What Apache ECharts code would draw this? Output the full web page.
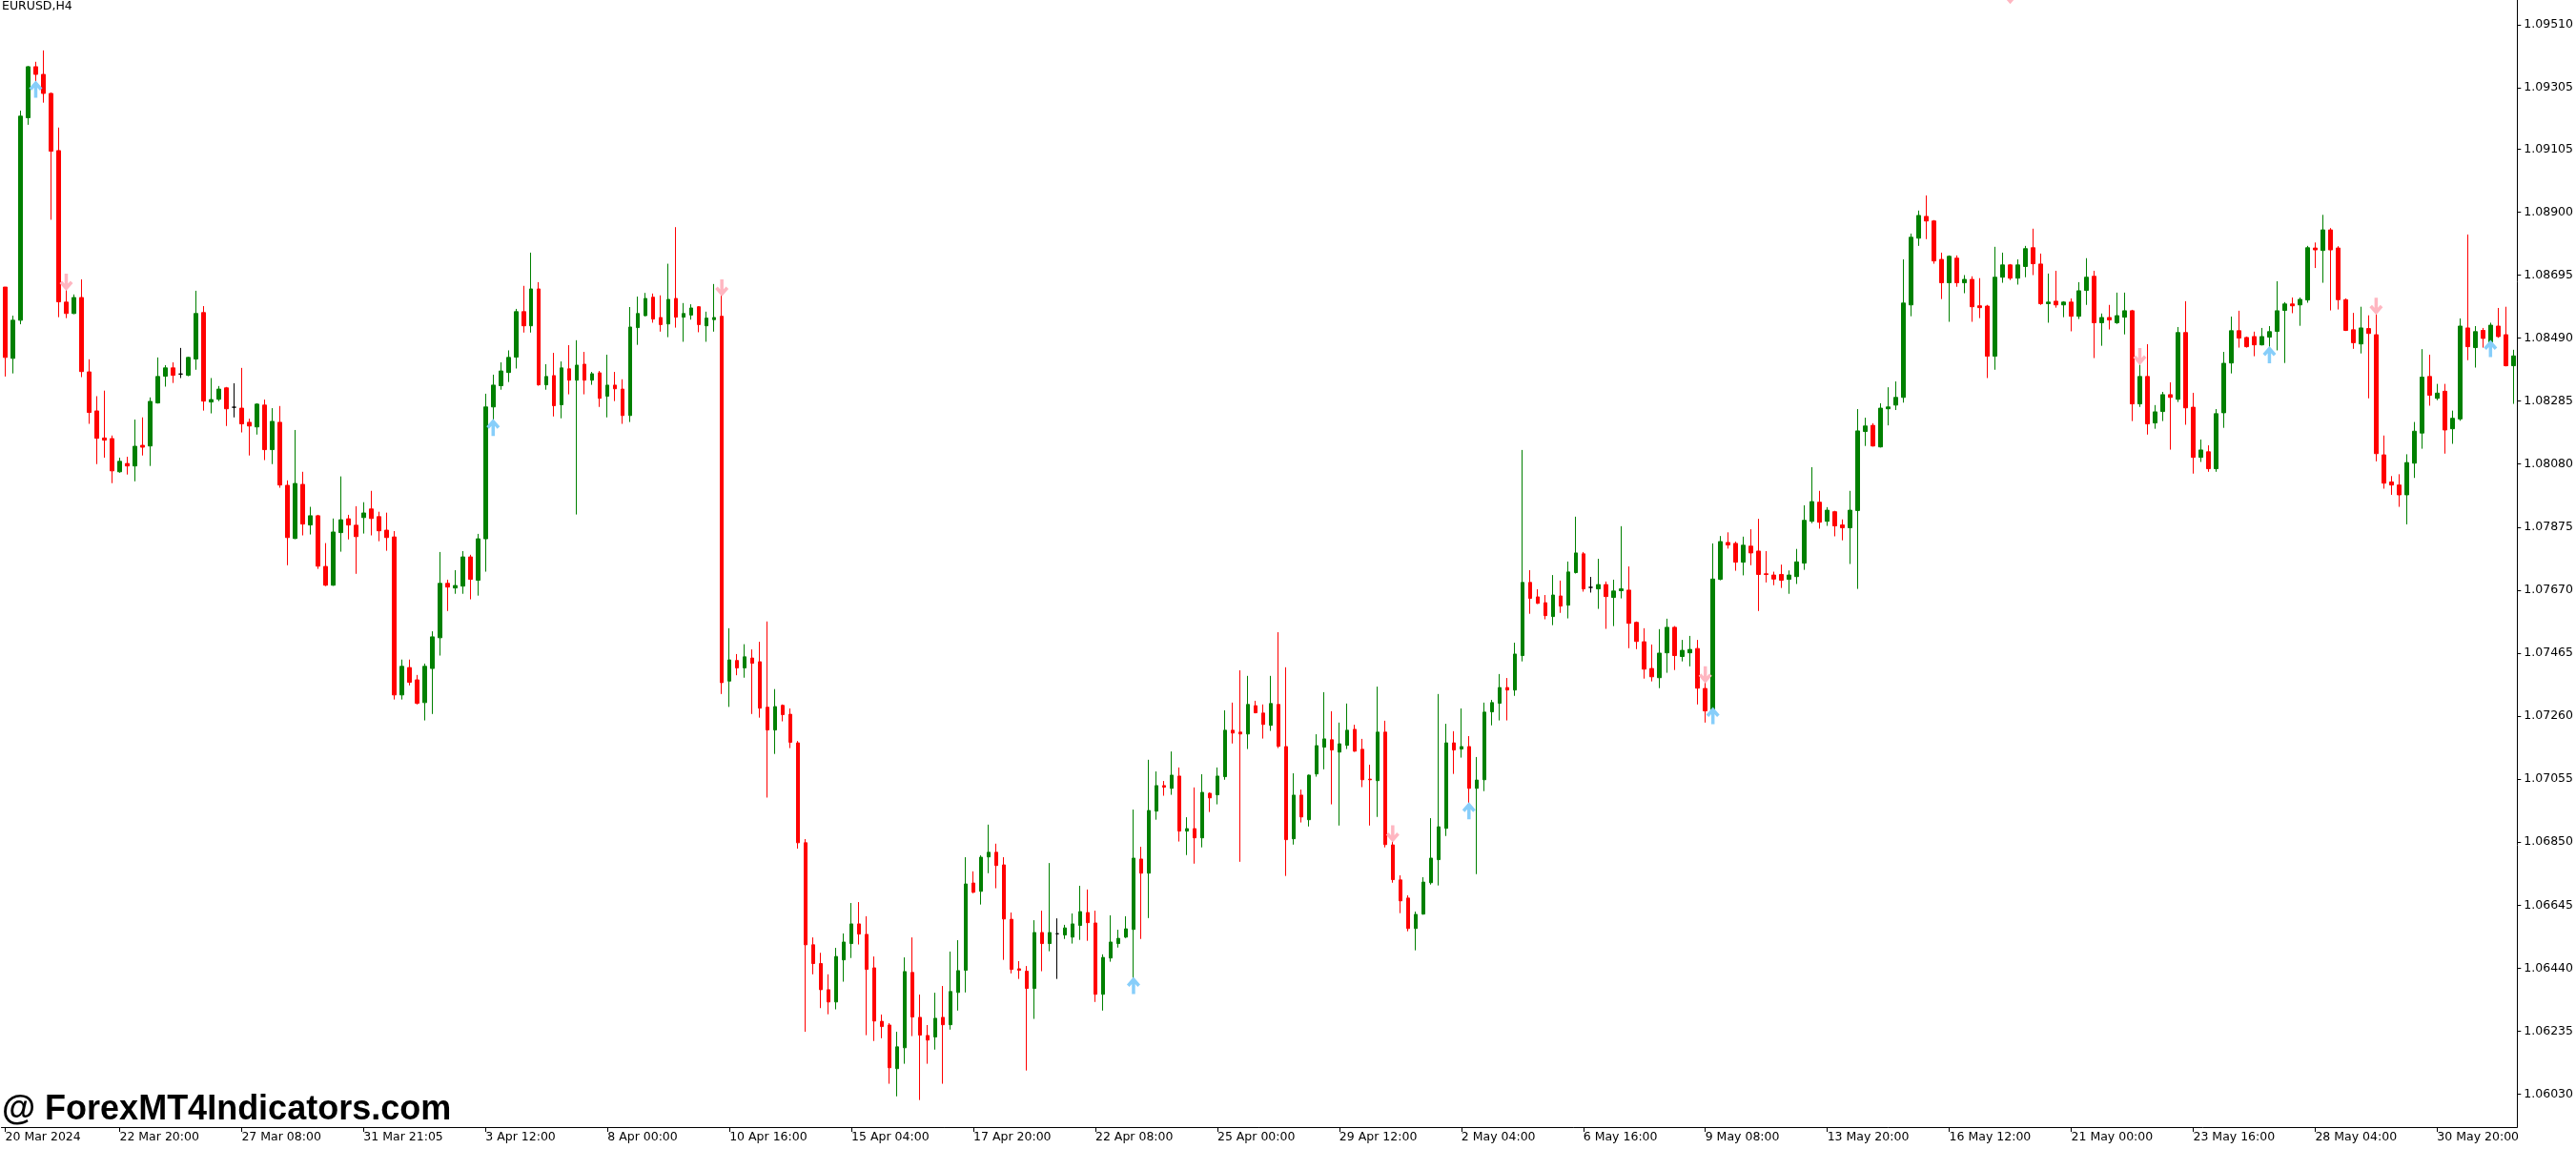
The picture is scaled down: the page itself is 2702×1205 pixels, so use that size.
<!DOCTYPE html>
<html><head><meta charset="utf-8">
<script src="https://cdn.jsdelivr.net/npm/echarts@6/dist/echarts.min.js"></script>
<style>html,body{margin:0;padding:0;background:#fff}#c{width:2702px;height:1205px}</style>
</head><body><div id="c"></div>
<script>
const opens = [1.08656,1.08424,1.08548,1.09207,1.09373,1.09348,1.09286,1.09100,1.08607,1.08570,
1.08622,1.08380,1.08253,1.08165,1.08163,1.08055,1.08082,1.08074,1.08141,1.08139,
1.08279,1.08366,1.08393,1.08373,1.08369,1.08422,1.08573,1.08282,1.08291,1.08328,
1.08265,1.08262,1.08216,1.08201,1.08272,1.08127,1.08216,1.08011,1.07838,1.08014,
1.07882,1.07912,1.07747,1.07686,1.07857,1.07902,1.07881,1.07906,1.07934,1.07909,
1.07865,1.07843,1.07329,1.07418,1.07378,1.07304,1.07415,1.07515,1.07692,1.07677,
1.07683,1.07778,1.07702,1.07837,1.08266,1.08335,1.08378,1.08428,1.08576,1.08530,
1.08650,1.08338,1.08368,1.08273,1.08390,1.08353,1.08405,1.08353,1.08377,1.08301,
1.08337,1.08324,1.08238,1.08524,1.08563,1.08623,1.08557,1.08536,1.08619,1.08558,
1.08565,1.08592,1.08530,1.08550,1.08561,1.07374,1.07441,1.07417,1.07449,1.07437,
1.07289,1.07215,1.07295,1.07266,1.07173,1.06848,1.06516,1.06455,1.06370,1.06330,
1.06467,1.06520,1.06584,1.06550,1.06441,1.06267,1.06255,1.06113,1.06181,1.06426,
1.06280,1.06221,1.06216,1.06280,1.06256,1.06361,1.06433,1.06717,1.06690,1.06802,
1.06817,1.06776,1.06599,1.06438,1.06430,1.06374,1.06556,1.06520,1.06552,1.06548,
1.06541,1.06579,1.06621,1.06587,1.06355,1.06473,1.06520,1.06541,1.06566,1.06795,
1.06749,1.06951,1.07034,1.07025,1.07065,1.06886,1.06894,1.06864,1.07009,1.07004,
1.07063,1.07214,1.07208,1.07202,1.07294,1.07270,1.07230,1.07298,1.07161,1.06861,
1.07003,1.06923,1.07072,1.07159,1.07183,1.07143,1.07165,1.07217,1.07152,1.07055,
1.07050,1.07208,1.06841,1.06727,1.06668,1.06569,1.06616,1.06718,1.06793,1.06895,
1.07173,1.07153,1.07161,1.07025,1.07053,1.07274,1.07302,1.07353,1.07345,1.07457,
1.07695,1.07648,1.07629,1.07584,1.07651,1.07621,1.07727,1.07788,1.07679,1.07674,
1.07688,1.07646,1.07668,1.07670,1.07565,1.07502,1.07415,1.07385,1.07466,1.07549,
1.07454,1.07466,1.07480,1.07350,1.07271,1.07705,1.07825,1.07822,1.07761,1.07813,
1.07797,1.07723,1.07719,1.07721,1.07705,1.07714,1.07758,1.07894,1.07956,1.07894,
1.07925,1.07882,1.07873,1.07929,1.08186,1.08206,1.08136,1.08260,1.08272,1.08297,
1.08598,1.08815,1.08886,1.08871,1.08746,1.08670,1.08750,1.08670,1.08681,1.08595,
1.08594,1.08431,1.08688,1.08728,1.08685,1.08723,1.08784,1.08731,1.08602,1.08610,
1.08598,1.08607,1.08561,1.08645,1.08691,1.08540,1.08557,1.08540,1.08558,1.08579,
1.08276,1.08365,1.08214,1.08251,1.08306,1.08291,1.08508,1.08265,1.08102,1.08120,
1.08065,1.08247,1.08409,1.08514,1.08492,1.08495,1.08468,1.08493,1.08512,1.08580,
1.08601,1.08598,1.08614,1.08783,1.08775,1.08842,1.08783,1.08615,1.08517,1.08471,
1.08521,1.08501,1.08110,1.08022,1.08012,1.07980,1.08083,1.08181,1.08365,1.08294,
1.08317,1.08195,1.08227,1.08523,1.08459,1.08515,1.08477,1.08529,1.08501,1.08400];
const highs = [1.08656,1.08563,1.09230,1.09375,1.09389,1.09426,1.09289,1.09175,1.08667,1.08632,
1.08681,1.08421,1.08301,1.08319,1.08173,1.08101,1.08104,1.08225,1.08232,1.08297,
1.08427,1.08402,1.08411,1.08458,1.08429,1.08644,1.08594,1.08360,1.08334,1.08331,
1.08343,1.08393,1.08228,1.08278,1.08290,1.08262,1.08269,1.08027,1.08191,1.08055,
1.07941,1.07915,1.07823,1.07903,1.08040,1.07915,1.07943,1.07956,1.07993,1.07925,
1.07922,1.07862,1.07444,1.07444,1.07394,1.07431,1.07536,1.07794,1.07704,1.07735,
1.07797,1.07785,1.07853,1.08309,1.08371,1.08411,1.08450,1.08585,1.08660,1.08768,
1.08672,1.08405,1.08442,1.08414,1.08467,1.08483,1.08445,1.08380,1.08383,1.08436,
1.08380,1.08356,1.08591,1.08625,1.08637,1.08635,1.08629,1.08732,1.08851,1.08604,
1.08600,1.08594,1.08576,1.08666,1.08647,1.07546,1.07462,1.07494,1.07477,1.07502,
1.07568,1.07348,1.07298,1.07285,1.07179,1.06860,1.06540,1.06490,1.06420,1.06506,
1.06553,1.06652,1.06655,1.06609,1.06478,1.06289,1.06261,1.06233,1.06475,1.06540,
1.06354,1.06255,1.06360,1.06382,1.06494,1.06531,1.06801,1.06755,1.06807,1.06907,
1.06845,1.06801,1.06621,1.06463,1.06447,1.06596,1.06627,1.06782,1.06602,1.06581,
1.06618,1.06708,1.06696,1.06627,1.06485,1.06612,1.06565,1.06609,1.06956,1.06835,
1.07118,1.07080,1.07049,1.07145,1.07093,1.06931,1.07028,1.07071,1.07012,1.07093,
1.07279,1.07304,1.07409,1.07391,1.07310,1.07298,1.07391,1.07533,1.07419,1.07074,
1.07021,1.07070,1.07201,1.07338,1.07276,1.07239,1.07301,1.07232,1.07186,1.07102,
1.07356,1.07245,1.06869,1.06742,1.06677,1.06624,1.06736,1.06928,1.07332,1.07235,
1.07211,1.07285,1.07195,1.07127,1.07304,1.07313,1.07397,1.07384,1.07499,1.08126,
1.07735,1.07673,1.07654,1.07719,1.07701,1.07763,1.07909,1.07794,1.07713,1.07772,
1.07698,1.07704,1.07878,1.07747,1.07568,1.07546,1.07493,1.07543,1.07577,1.07553,
1.07508,1.07521,1.07508,1.07388,1.07822,1.07846,1.07858,1.07828,1.07844,1.07868,
1.07902,1.07797,1.07730,1.07753,1.07734,1.07804,1.07946,1.08070,1.07993,1.07940,
1.07928,1.07900,1.07993,1.08259,1.08231,1.08213,1.08278,1.08330,1.08349,1.08746,
1.08830,1.08905,1.08954,1.08874,1.08768,1.08759,1.08759,1.08695,1.08691,1.08685,
1.08598,1.08787,1.08768,1.08731,1.08746,1.08790,1.08846,1.08765,1.08700,1.08709,
1.08610,1.08619,1.08672,1.08750,1.08709,1.08570,1.08598,1.08638,1.08638,1.08582,
1.08425,1.08470,1.08272,1.08315,1.08346,1.08526,1.08610,1.08312,1.08160,1.08141,
1.08259,1.08445,1.08560,1.08579,1.08495,1.08511,1.08523,1.08529,1.08675,1.08607,
1.08622,1.08622,1.08790,1.08801,1.08891,1.08848,1.08789,1.08619,1.08572,1.08592,
1.08564,1.08588,1.08173,1.08041,1.08047,1.08112,1.08217,1.08454,1.08436,1.08341,
1.08341,1.08254,1.08554,1.08827,1.08529,1.08523,1.08540,1.08588,1.08592,1.08452];
const lows = [1.08365,1.08375,1.08535,1.09184,1.09306,1.09256,1.08875,1.08558,1.08555,1.08568,
1.08363,1.08211,1.08080,1.08101,1.08018,1.08052,1.08046,1.08024,1.08108,1.08074,
1.08277,1.08332,1.08344,1.08360,1.08366,1.08387,1.08254,1.08245,1.08285,1.08204,
1.08232,1.08183,1.08108,1.08176,1.08093,1.08080,1.08003,1.07751,1.07836,1.07848,
1.07851,1.07739,1.07683,1.07684,1.07795,1.07835,1.07723,1.07854,1.07848,1.07829,
1.07798,1.07314,1.07314,1.07360,1.07298,1.07246,1.07267,1.07457,1.07602,1.07658,
1.07658,1.07640,1.07652,1.07730,1.08204,1.08322,1.08347,1.08391,1.08508,1.08508,
1.08335,1.08322,1.08235,1.08229,1.08307,1.07916,1.08307,1.08338,1.08266,1.08232,
1.08285,1.08211,1.08217,1.08468,1.08561,1.08540,1.08511,1.08493,1.08524,1.08478,
1.08550,1.08509,1.08478,1.08511,1.07332,1.07290,1.07393,1.07385,1.07267,1.07255,
1.06995,1.07137,1.07243,1.07156,1.06829,1.06233,1.06420,1.06310,1.06290,1.06306,
1.06396,1.06473,1.06517,1.06222,1.06203,1.06212,1.06064,1.06023,1.06129,1.06219,
1.06011,1.06129,1.06175,1.06064,1.06240,1.06302,1.06361,1.06684,1.06647,1.06749,
1.06700,1.06467,1.06423,1.06405,1.06107,1.06275,1.06430,1.06495,1.06405,1.06535,
1.06520,1.06532,1.06529,1.06330,1.06302,1.06461,1.06507,1.06538,1.06389,1.06535,
1.06603,1.06923,1.07001,1.07004,1.06852,1.06808,1.06780,1.06833,1.06948,1.06973,
1.07053,1.07171,1.06786,1.07153,1.07269,1.07187,1.07212,1.07156,1.06740,1.06842,
1.06914,1.06901,1.07063,1.07087,1.06973,1.06904,1.07153,1.07144,1.07029,1.06904,
1.06932,1.06833,1.06718,1.06619,1.06560,1.06498,1.06614,1.06712,1.06709,1.06870,
1.07072,1.07125,1.06957,1.06746,1.07016,1.07230,1.07246,1.07246,1.07326,1.07438,
1.07593,1.07625,1.07575,1.07556,1.07596,1.07578,1.07724,1.07665,1.07662,1.07609,
1.07544,1.07553,1.07643,1.07481,1.07478,1.07382,1.07373,1.07351,1.07401,1.07410,
1.07438,1.07422,1.07298,1.07239,1.07268,1.07702,1.07805,1.07733,1.07718,1.07751,
1.07602,1.07695,1.07686,1.07677,1.07658,1.07690,1.07736,1.07888,1.07870,1.07879,
1.07845,1.07832,1.07755,1.07674,1.08139,1.08137,1.08134,1.08206,1.08256,1.08280,
1.08561,1.08790,1.08812,1.08732,1.08617,1.08543,1.08657,1.08636,1.08543,1.08555,
1.08360,1.08387,1.08670,1.08679,1.08664,1.08688,1.08695,1.08598,1.08540,1.08589,
1.08558,1.08512,1.08552,1.08598,1.08425,1.08465,1.08518,1.08536,1.08502,1.08220,
1.08266,1.08176,1.08195,1.08220,1.08127,1.08282,1.08208,1.08049,1.08087,1.08055,
1.08055,1.08198,1.08375,1.08459,1.08459,1.08431,1.08466,1.08443,1.08450,1.08409,
1.08571,1.08530,1.08605,1.08718,1.08670,1.08580,1.08583,1.08513,1.08455,1.08440,
1.08294,1.08089,1.08000,1.07980,1.07941,1.07884,1.08035,1.08130,1.08270,1.08288,
1.08114,1.08146,1.08221,1.08418,1.08394,1.08459,1.08465,1.08491,1.08398,1.08276];
const closes = [1.08427,1.08548,1.09212,1.09373,1.09348,1.09286,1.09098,1.08608,1.08570,1.08622,
1.08381,1.08248,1.08164,1.08158,1.08058,1.08089,1.08074,1.08138,1.08135,1.08284,
1.08365,1.08393,1.08369,1.08373,1.08427,1.08570,1.08285,1.08290,1.08324,1.08260,
1.08265,1.08211,1.08204,1.08275,1.08127,1.08219,1.08012,1.07841,1.08017,1.07885,
1.07912,1.07748,1.07686,1.07859,1.07899,1.07882,1.07844,1.07921,1.07903,1.07863,
1.07841,1.07329,1.07422,1.07370,1.07302,1.07422,1.07518,1.07692,1.07680,1.07685,
1.07778,1.07705,1.07837,1.08266,1.08337,1.08383,1.08427,1.08576,1.08530,1.08650,
1.08338,1.08365,1.08270,1.08393,1.08353,1.08402,1.08353,1.08374,1.08294,1.08337,
1.08325,1.08238,1.08526,1.08570,1.08619,1.08552,1.08534,1.08616,1.08558,1.08570,
1.08588,1.08534,1.08555,1.08557,1.07369,1.07443,1.07417,1.07453,1.07432,1.07286,
1.07215,1.07291,1.07265,1.07175,1.06848,1.06516,1.06455,1.06370,1.06330,1.06478,
1.06525,1.06584,1.06551,1.06436,1.06268,1.06250,1.06116,1.06184,1.06429,1.06281,
1.06222,1.06206,1.06277,1.06256,1.06364,1.06432,1.06714,1.06687,1.06801,1.06817,
1.06774,1.06600,1.06436,1.06433,1.06374,1.06556,1.06520,1.06556,1.06552,1.06571,
1.06584,1.06624,1.06588,1.06355,1.06475,1.06525,1.06537,1.06568,1.06798,1.06749,
1.06953,1.07034,1.07029,1.07068,1.06886,1.06894,1.06864,1.07012,1.06994,1.07065,
1.07214,1.07205,1.07202,1.07298,1.07271,1.07233,1.07301,1.07162,1.06858,1.07003,
1.06932,1.07068,1.07164,1.07186,1.07150,1.07170,1.07214,1.07146,1.07053,1.07053,
1.07208,1.06842,1.06728,1.06659,1.06569,1.06615,1.06720,1.06798,1.06900,1.07173,
1.07150,1.07161,1.07025,1.07052,1.07273,1.07304,1.07353,1.07345,1.07462,1.07695,
1.07643,1.07627,1.07587,1.07654,1.07618,1.07729,1.07791,1.07674,1.07679,1.07688,
1.07649,1.07667,1.07674,1.07562,1.07503,1.07413,1.07388,1.07465,1.07549,1.07457,
1.07474,1.07477,1.07351,1.07277,1.07706,1.07828,1.07817,1.07761,1.07816,1.07791,
1.07721,1.07721,1.07706,1.07702,1.07719,1.07762,1.07897,1.07958,1.07891,1.07930,
1.07879,1.07873,1.07930,1.08188,1.08204,1.08139,1.08262,1.08266,1.08297,1.08604,
1.08818,1.08889,1.08871,1.08741,1.08670,1.08756,1.08670,1.08681,1.08592,1.08589,
1.08431,1.08688,1.08728,1.08685,1.08728,1.08781,1.08732,1.08602,1.08607,1.08598,
1.08607,1.08561,1.08644,1.08688,1.08540,1.08557,1.08549,1.08563,1.08579,1.08276,
1.08365,1.08211,1.08250,1.08306,1.08297,1.08508,1.08263,1.08102,1.08126,1.08065,
1.08244,1.08408,1.08514,1.08490,1.08462,1.08468,1.08495,1.08511,1.08579,1.08601,
1.08595,1.08616,1.08784,1.08777,1.08842,1.08777,1.08615,1.08515,1.08475,1.08523,
1.08505,1.08114,1.08018,1.08012,1.07980,1.08085,1.08187,1.08363,1.08304,1.08311,
1.08191,1.08229,1.08529,1.08462,1.08511,1.08489,1.08532,1.08495,1.08400,1.08432];

const tickIndex = [0,15,31,47,63,79,95,111,127,143,159,175,191,207,223,239,255,271,287,303,319];
const tickLabels = ['20 Mar 2024','22 Mar 20:00','27 Mar 08:00','31 Mar 21:05','3 Apr 12:00','8 Apr 00:00',
'10 Apr 16:00','15 Apr 04:00','17 Apr 20:00','22 Apr 08:00','25 Apr 00:00','29 Apr 12:00','2 May 04:00',
'6 May 16:00','9 May 08:00','13 May 20:00','16 May 12:00','21 May 00:00','23 May 16:00','28 May 04:00','30 May 20:00'];
const priceTicks = [1.09510,1.09305,1.09105,1.08900,1.08695,1.08490,1.08285,1.08080,1.07875,1.07670,
1.07465,1.07260,1.07055,1.06850,1.06645,1.06440,1.06235,1.06030];

const upArrowIdx = [4,64,148,192,224,297,326];
const upArrowPrice = [1.09300,1.08199,1.06384,1.06952,1.07262,1.08436,1.08456];
const downArrowIdx = [8,94,182,223,280,311,263];
const downArrowPrice = [1.08672,1.08653,1.06877,1.07394,1.08430,1.08593,1.09605];

const categories = opens.map((_, i) => String(i));
const labelOf = {};
tickIndex.forEach((t, k) => { labelOf[t] = tickLabels[k]; });
const showTick = (i) => labelOf[i] !== undefined;

const FONT = '"DejaVu Sans", Verdana, sans-serif';
const chart = echarts.init(document.getElementById('c'), null, {renderer: 'canvas'});
chart.setOption({
  animation: false,
  backgroundColor: '#ffffff',
  grid: {left: 1.5, right: 60.5, top: 0, bottom: 23, containLabel: false},
  xAxis: {
    type: 'category',
    data: categories,
    boundaryGap: true,
    axisLine: {show: true, lineStyle: {color: '#000', width: 1}},
    axisTick: {show: true, alignWithLabel: true, interval: (i) => showTick(i), length: 5, lineStyle: {color: '#000'}},
    axisLabel: {show: true, interval: (i) => showTick(i), formatter: (v, i) => labelOf[i] || '',
      align: 'left', margin: 4, color: '#000', fontFamily: FONT, fontSize: 12.5},
    splitLine: {show: false}
  },
  yAxis: {
    type: 'value',
    position: 'right',
    min: 1.05923,
    max: 1.09590,
    scale: true,
    axisLine: {show: true, lineStyle: {color: '#000', width: 1}},
    axisTick: {show: true, length: 4, customValues: priceTicks, lineStyle: {color: '#000'}},
    axisLabel: {show: true, customValues: priceTicks, formatter: (v) => v.toFixed(5),
      margin: 7, color: '#000', fontFamily: FONT, fontSize: 12.5},
    splitLine: {show: false}
  },
  series: [
    {
      type: 'candlestick',
      data: opens.map((o, i) => [o, closes[i], lows[i], highs[i]]),
      barWidth: 4,
      itemStyle: {color: '#008000', color0: '#ff0000', borderColor: '#008000', borderColor0: '#ff0000',
        borderColorDoji: '#000000', borderWidth: 1},
      emphasis: {disabled: true},
      z: 2
    },
    {
      type: 'scatter',
      data: upArrowIdx.map((x, i) => [x, upArrowPrice[i]]),
      symbol: 'path://M8,0L16,8L13,10.5L10,7.5L10,18L6,18L6,7.5L3,10.5L0,8Z',
      symbolSize: [14, 18],
      itemStyle: {color: '#87cefa', opacity: 1},
      emphasis: {disabled: true},
      clip: false,
      z: 3
    },
    {
      type: 'scatter',
      data: downArrowIdx.map((x, i) => [x, downArrowPrice[i]]),
      symbol: 'path://M8,18L16,10L13,7.5L10,10.5L10,0L6,0L6,10.5L3,7.5L0,10Z',
      symbolSize: [14, 18],
      itemStyle: {color: '#ffb6c1', opacity: 1},
      emphasis: {disabled: true},
      clip: false,
      z: 3
    }
  ],
  graphic: [
    {type: 'text', left: 2, top: 0, z: 10,
      style: {text: 'EURUSD,H4', fill: '#000', font: '12.5px ' + FONT}},
    {type: 'text', left: 2, top: 1146, z: 10,
      style: {text: '@ ForexMT4Indicators.com', fill: '#000', font: 'bold 36px "Liberation Sans", Arial, sans-serif'}}
  ]
});
</script>
</body></html>
